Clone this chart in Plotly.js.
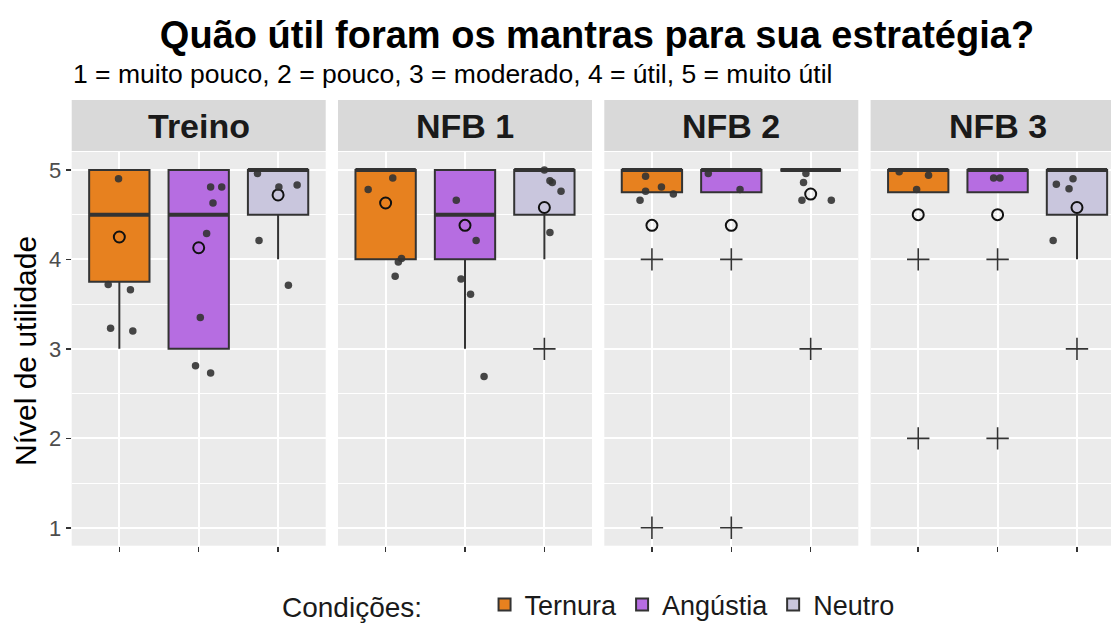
<!DOCTYPE html>
<html><head><meta charset="utf-8">
<script src="https://cdn.plot.ly/plotly-3.0.1.min.js"></script>
<style>html,body{margin:0;padding:0;background:#fff}#chart{width:1111px;height:625px}</style>
</head><body><div id="chart"></div>
<script>
// ---------- data ----------
const panels = ['Treino', 'NFB 1', 'NFB 2', 'NFB 3'];
const conditions = ['Ternura', 'Angústia', 'Neutro'];
// per panel -> per condition
const q1 = [[3.75, 3, 4.5], [4, 4, 4.5], [4.75, 4.75, 5], [4.75, 4.75, 4.5]];
const medians = [[4.5, 4.5, 5], [5, 4.5, 5], [5, 5, 5], [5, 5, 5]];
const q3 = [[5, 5, 5], [5, 5, 5], [5, 5, 5], [5, 5, 5]];
const lowerWhisker = [[3, 3, 4], [4, 3, 4], [4.75, 4.75, 5], [4.75, 4.75, 4]];
const upperWhisker = [[5, 5, 5], [5, 5, 5], [5, 5, 5], [5, 5, 5]];
const means = [[4.25, 4.13, 4.72], [4.63, 4.38, 4.58], [4.38, 4.38, 4.73], [4.5, 4.5, 4.58]];
const outliers = [[[], [], []], [[], [], [3]], [[4, 1], [4, 1], [3]], [[4, 2], [4, 2], [3]]];
const jitterY = [
  [[4.90, 3.72, 3.66, 3.23, 3.20], [4.81, 4.81, 4.63, 4.29, 3.35, 2.81, 2.73], [4.96, 4.81, 4.83, 4.21, 3.71]],
  [[4.91, 4.78, 4.01, 3.97, 3.81], [4.66, 4.21, 3.78, 3.61, 2.69], [5.0, 4.88, 4.86, 4.76, 4.30]],
  [[4.93, 4.81, 4.76, 4.73, 4.66], [4.96, 4.78], [4.96, 4.86, 4.66, 4.66]],
  [[4.98, 4.94, 4.78], [4.91, 4.91], [4.90, 4.84, 4.79, 4.21]]
];
const jitterDx = [
  [[-0.01, -0.14, 0.14, -0.11, 0.17], [0.15, 0.29, 0.18, 0.10, 0.02, -0.04, 0.15], [-0.26, 0.01, 0.24, -0.24, 0.13]],
  [[0.09, -0.22, 0.20, 0.16, 0.12], [-0.11, 0.14, -0.05, 0.07, 0.24], [0.0, 0.07, 0.10, 0.21, 0.07]],
  [[-0.08, 0.12, -0.08, 0.27, -0.15], [-0.29, 0.11], [-0.06, -0.09, -0.11, 0.26]],
  [[-0.24, 0.13, -0.02], [-0.05, 0.03], [-0.05, -0.26, -0.10, -0.30]]
];
const yTicks = [1, 2, 3, 4, 5];

// ---------- styling ----------
const colors = ['#E7811F', '#B66DE1', '#C9C6DD'];
const FONT = 'Liberation Sans, Arial, Helvetica, sans-serif';
const W = 1111, H = 625;
const px = x => x / W;
const py = y => 1 - y / H;
const panelLeft = [71.7, 338, 604.3, 870.6];
const panelW = 254;
const unitPx = panelW / 3.2;
const yTop = 152, yBot = 545.7;
const boxW = 0.76;
const NB = '\u00A0';

const traces = [];
const layout = {
  width: W, height: H,
  margin: {l: 0, r: 0, t: 0, b: 0, autoexpand: false},
  paper_bgcolor: '#ffffff',
  plot_bgcolor: '#EBEBEB',
  showlegend: true,
  hovermode: false,
  boxmode: 'overlay',
  font: {family: FONT, color: '#1a1a1a'},
  title: {
    text: 'Quão útil foram os mantras para sua estratégia?',
    font: {family: FONT, size: 38, weight: 'bold', color: '#000'},
    x: px(597), xref: 'paper', xanchor: 'center',
    y: py(35), yref: 'container', yanchor: 'middle'
  },
  legend: {
    orientation: 'h',
    x: px(280), xanchor: 'left',
    y: py(605), yanchor: 'middle',
    font: {family: FONT, size: 27, color: '#1a1a1a'},
    title: {text: 'Condições:' + NB.repeat(7), font: {family: FONT, size: 28, color: '#1a1a1a'}},
    traceorder: 'normal',
    itemclick: false, itemdoubleclick: false
  },
  shapes: [],
  annotations: [
    {text: '1 = muito pouco, 2 = pouco, 3 = moderado, 4 = útil, 5 = muito útil',
     xref: 'paper', yref: 'paper', x: px(71), y: py(74), xanchor: 'left', yanchor: 'middle',
     showarrow: false, font: {family: FONT, size: 26.5, color: '#000'}},
    {text: 'Nível de utilidade', xref: 'paper', yref: 'paper', x: px(25), y: py(351),
     xanchor: 'center', yanchor: 'middle', textangle: -90, showarrow: false,
     font: {family: FONT, size: 30, color: '#000'}}
  ]
};

panels.forEach((pname, p) => {
  const xa = p === 0 ? 'x' : 'x' + (p + 1);
  const ya = p === 0 ? 'y' : 'y' + (p + 1);
  const xKey = p === 0 ? 'xaxis' : 'xaxis' + (p + 1);
  const yKey = p === 0 ? 'yaxis' : 'yaxis' + (p + 1);
  const L = panelLeft[p];
  const R = Math.min(W, L + panelW);
  layout[xKey] = {
    domain: [px(L), px(R)], anchor: ya,
    range: [0.4, 0.4 + (R - L) / unitPx],
    tickvals: [1, 2, 3], showticklabels: false,
    ticks: 'outside', ticklen: 5, tickwidth: 1.5, tickcolor: '#333',
    showgrid: true, gridcolor: '#ffffff', gridwidth: 2,
    zeroline: false, showline: false, fixedrange: true
  };
  layout[yKey] = {
    domain: [py(yBot), py(yTop)], anchor: xa,
    range: [0.8, 5.2],
    tickvals: yTicks, showticklabels: p === 0,
    ticks: p === 0 ? 'outside' : '', ticklen: 5, tickwidth: 1.5, tickcolor: '#333',
    tickfont: {family: FONT, size: 22, color: '#4D4D4D'},
    showgrid: true, gridcolor: '#ffffff', gridwidth: 2,
    minor: {dtick: 0.5, tick0: 0.5, showgrid: true, gridcolor: '#ffffff', gridwidth: 1},
    zeroline: false, showline: false, fixedrange: true
  };
  // strip
  layout.shapes.push({type: 'rect', xref: 'paper', yref: 'paper', x0: px(L), x1: px(R),
    y0: py(151), y1: py(100), fillcolor: '#D9D9D9', line: {width: 0}, layer: 'below'});
  layout.annotations.push({text: pname, xref: 'paper', yref: 'paper',
    x: px(L + panelW / 2), y: py(126), xanchor: 'center', yanchor: 'middle', showarrow: false,
    font: {family: FONT, size: 34, weight: 'bold', color: '#1a1a1a'}});

  conditions.forEach((cname, c) => {
    const xc = c + 1;
    traces.push({
      type: 'box', name: cname, legendgroup: cname, showlegend: p === 0,
      x: [xc], q1: [q1[p][c]], median: [medians[p][c]], q3: [q3[p][c]],
      lowerfence: [lowerWhisker[p][c]], upperfence: [upperWhisker[p][c]],
      width: boxW, whiskerwidth: 0, boxpoints: false,
      fillcolor: colors[c], line: {color: '#333333', width: 2},
      xaxis: xa, yaxis: ya, hoverinfo: 'skip'
    });
  });
  // thick median lines
  conditions.forEach((cname, c) => {
    const xc = c + 1;
    traces.push({
      type: 'scatter', mode: 'lines', showlegend: false, hoverinfo: 'skip',
      x: [xc - boxW / 2, xc + boxW / 2], y: [medians[p][c], medians[p][c]],
      line: {color: '#333333', width: 4}, xaxis: xa, yaxis: ya
    });
  });
  // means
  traces.push({
    type: 'scatter', mode: 'markers', showlegend: false, hoverinfo: 'skip',
    x: [1, 2, 3], y: means[p],
    marker: {symbol: 'circle-open', size: 11, color: '#111', line: {width: 2, color: '#111'}},
    xaxis: xa, yaxis: ya
  });
  // outliers
  const ox = [], oy = [];
  outliers[p].forEach((arr, c) => arr.forEach(v => { ox.push(c + 1); oy.push(v); }));
  traces.push({
    type: 'scatter', mode: 'markers', showlegend: false, hoverinfo: 'skip',
    x: ox, y: oy,
    marker: {symbol: 'cross-thin-open', size: 16, color: '#333', line: {width: 1.6, color: '#333'}},
    xaxis: xa, yaxis: ya
  });
  // jittered points
  const jx = [], jy = [];
  jitterY[p].forEach((arr, c) => arr.forEach((v, i) => { jx.push(c + 1 + jitterDx[p][c][i]); jy.push(v); }));
  traces.push({
    type: 'scatter', mode: 'markers', showlegend: false, hoverinfo: 'skip',
    x: jx, y: jy,
    marker: {symbol: 'circle', size: 7.5, color: '#333333', opacity: 0.9},
    xaxis: xa, yaxis: ya
  });
});

Plotly.newPlot('chart', traces, layout, {staticPlot: true, displayModeBar: false});
</script>
</body></html>
